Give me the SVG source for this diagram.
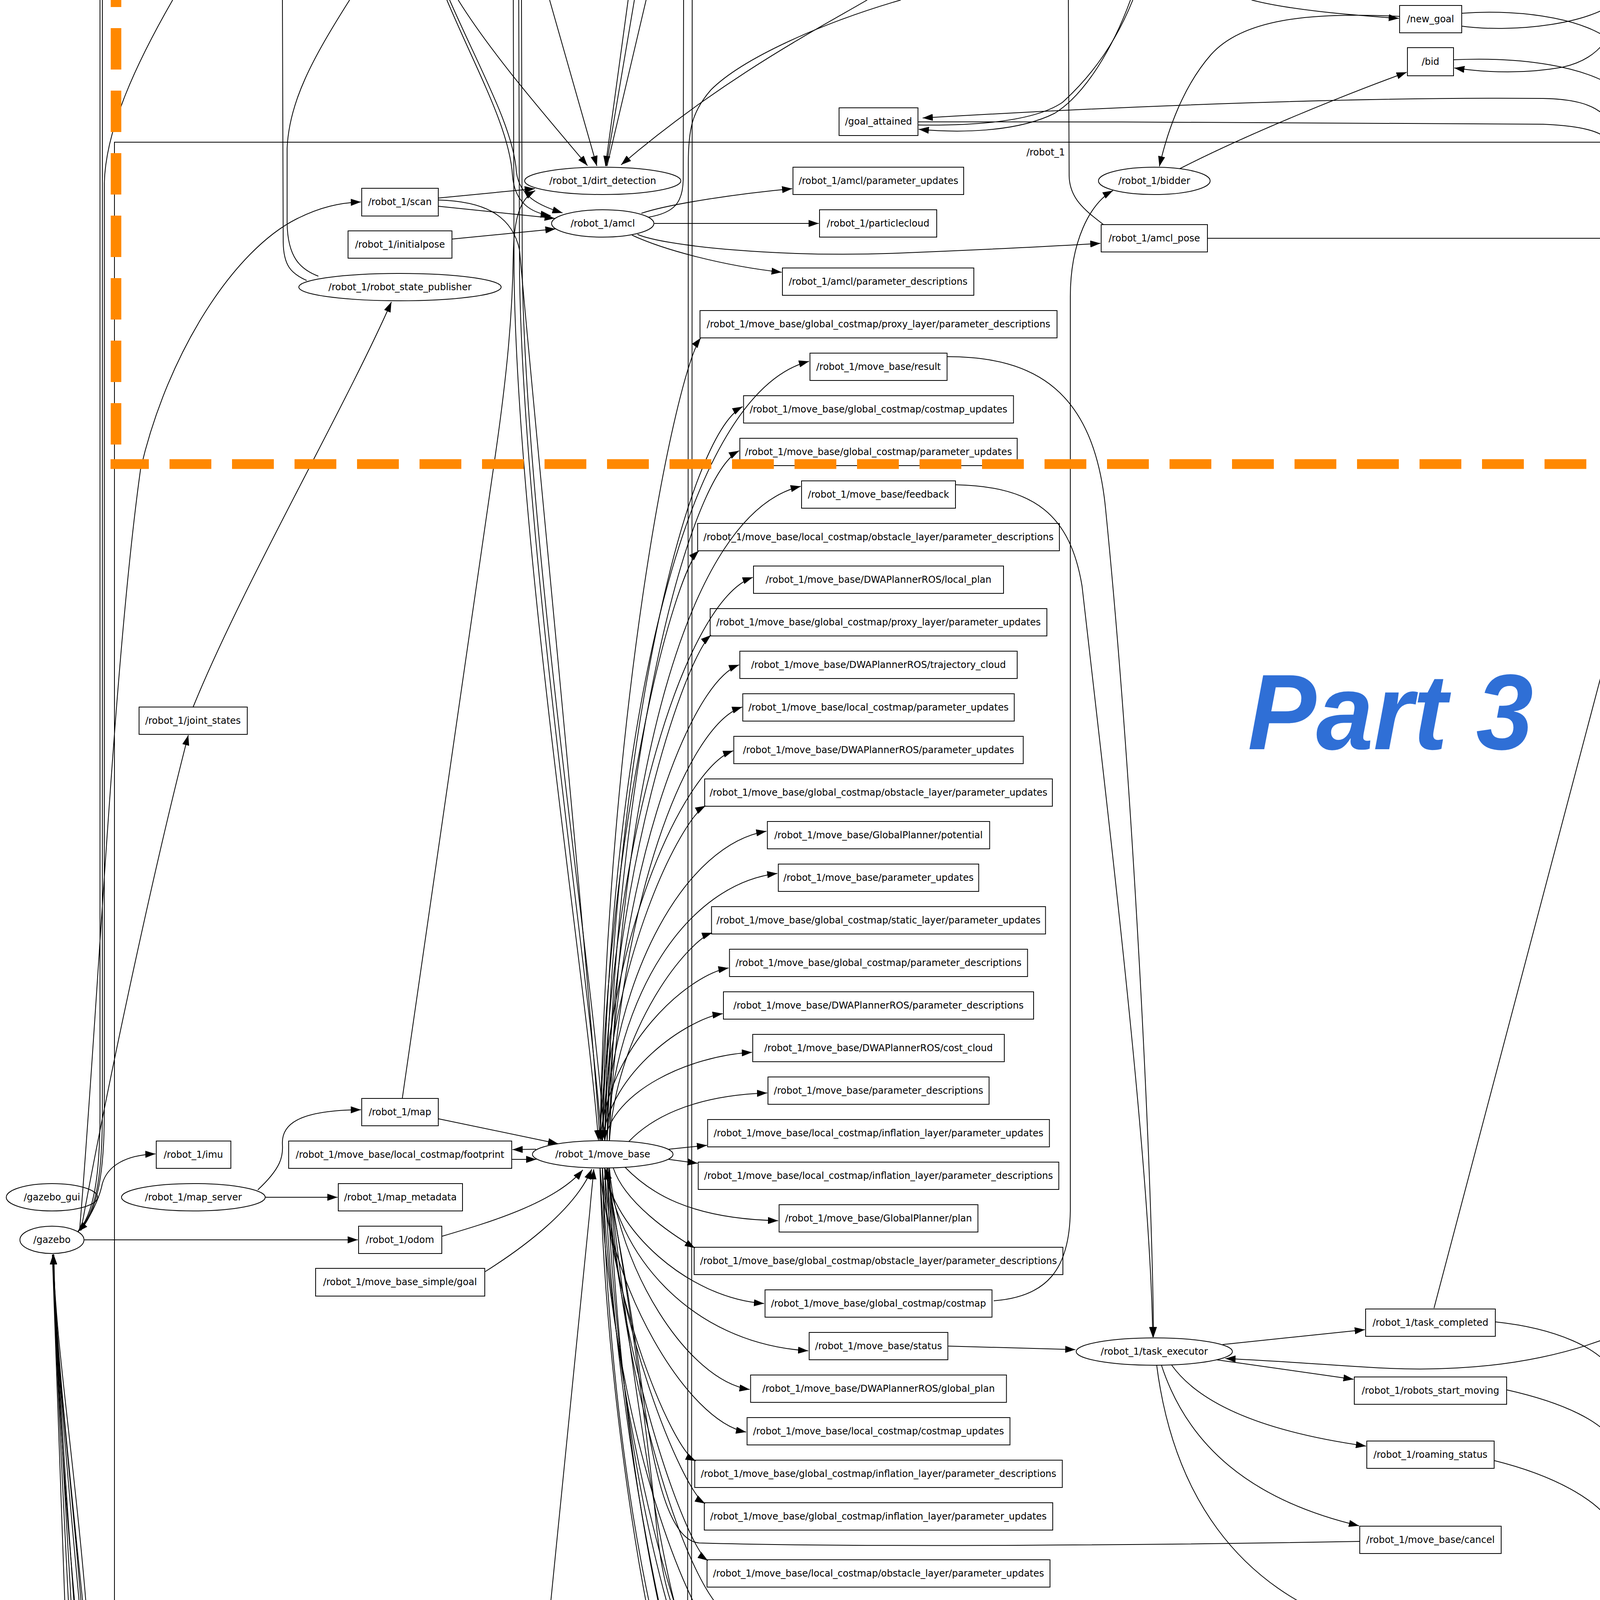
<svg xmlns="http://www.w3.org/2000/svg" width="5106" height="5954" viewBox="0 0 5106 5954">
<style>
.node rect,.node ellipse{fill:none;stroke:#000;stroke-width:2}
.node text,.cl text{font-family:"DejaVu Sans","Liberation Sans",sans-serif;font-size:24px;text-anchor:middle;fill:#000}
.edges path{fill:none;stroke:#000;stroke-width:2}
.edges path.a{marker-end:url(#ah)}
.cl rect,.cl path{fill:none;stroke:#000;stroke-width:2}
.big{font-family:"Liberation Sans",Arial,sans-serif;font-weight:bold;font-style:italic}
</style>
<defs>
<marker id="ah" markerWidth="26" markerHeight="18" refX="26" refY="9" orient="auto" markerUnits="userSpaceOnUse"><path d="M0,0 L26,9 L0,18 z" fill="#000"/></marker>
</defs>
<rect x="0" y="0" width="5106" height="5954" fill="#fff"/>
<g id="clusters" class="cl">
<rect x="293" y="364" width="4770" height="4632"/>
<text x="2677" y="398">/robot_1</text>
<rect x="269" y="5145" width="451" height="696"/>
<text x="495" y="5180">/gazebo</text>
<rect x="834" y="5068" width="380" height="152"/>
<text x="1024" y="5104">/custom_layers</text>
<path d="M246,5841 V5952 H655 V5841"/>
</g>
<g id="edges" class="edges">
<path class="a" d="M256,0 L256,2850 C256,3010 240,3110 199,3153"/>
<path d="M200,3153 C246,3105 262,3010 262,2850 L262,0"/>
<path d="M205,3150 C250,3100 267,3000 267,2850 L267,470 C270,330 350,160 442,0"/>
<path class="a" d="M207,3150 C240,3100 256,3060 262,3030 C275,2985 320,2957 398,2954"/>
<path class="a" d="M208,3146 C280,2750 400,2200 482,1882"/>
<path class="a" d="M204,3146 C250,2600 290,1700 360,1200 C430,900 600,640 760,560 C820,530 870,519 924,517"/>
<path class="a" d="M215,3174 L916,3174"/>
<path class="a" d="M494,1811 C620,1500 880,1050 1002,773"/>
<path d="M785,718 C745,700 726,680 725,620 L723,0"/>
<path d="M815,707 C770,690 736,660 735,570 L735,380 C740,260 800,150 895,0"/>
<path class="a" d="M1144,0 C1220,180 1305,330 1312,450 C1318,520 1360,545 1410,552"/>
<path class="a" d="M1151,0 C1230,180 1315,330 1322,440 C1330,505 1385,528 1440,545"/>
<path class="a" d="M1314,0 L1316,700 C1325,1400 1500,2500 1532,2919"/>
<path class="a" d="M1328,0 L1330,700 C1340,1400 1510,2500 1540,2919"/>
<path class="a" d="M1335,0 L1337,700 C1350,1400 1520,2500 1548,2919"/>
<path class="a" d="M1173,0 C1260,140 1400,300 1504,424"/>
<path class="a" d="M1407,0 L1528,425"/>
<path class="a" d="M1608,0 L1550,425"/>
<path d="M1624,0 L1552,425"/>
<path d="M1654,0 L1554,425"/>
<path class="a" d="M2220,0 C2100,70 1850,200 1590,422"/>
<path class="a" d="M2306,0 C2100,60 1900,150 1820,230 C1772,285 1762,330 1762,420 L1760,4960 C1756,5010 1700,5030 1300,5040 C800,5046 320,5040 285,5010 C262,4980 252,4700 242,4400 C205,3800 145,3500 136,3211"/>
<path d="M1772,0 L1770,4990 C1768,5070 1700,5120 1300,5190 C1250,5196 1222,5194 1197,5193"/>
<path d="M1660,556 C1725,545 1748,520 1749,460 L1750,0"/>
<path class="a" d="M1122,507 L1369,483"/>
<path class="a" d="M1122,528 L1420,559"/>
<path class="a" d="M1122,512 C1230,515 1310,545 1330,640 C1380,1200 1500,2400 1536,2919"/>
<path class="a" d="M1157,612 L1422,586"/>
<path class="a" d="M1030,2811 L1263,1200 C1300,950 1312,800 1314,650 C1316,560 1330,510 1370,488"/>
<path class="a" d="M1642,546 C1720,520 1900,495 2028,483"/>
<path class="a" d="M1675,572 L2096,572"/>
<path class="a" d="M1618,602 C1700,640 1850,680 2001,697"/>
<path class="a" d="M1632,600 C1700,630 2000,660 2300,648 C2500,640 2700,630 2817,623"/>
<path d="M2825,575 C2780,540 2738,510 2737,450 L2735,0"/>
<path class="a" d="M3091,610 L4193,610"/>
<path class="a" d="M2544,3330 C2680,3320 2738,3250 2740,3100 L2740,760 C2740,620 2790,520 2849,488"/>
<path class="a" d="M3020,432 C3200,340 3450,240 3601,185"/>
<path class="a" d="M3583,42 C3350,30 3180,50 3100,140 C3030,220 2990,330 2968,426"/>
<path class="a" d="M3204,0 C3300,25 3450,38 3581,47"/>
<path class="a" d="M2894,0 C2850,120 2780,240 2700,290 C2600,340 2450,340 2352,331"/>
<path d="M2350,320 C2500,322 2650,310 2720,262 C2800,190 2860,100 2900,0"/>
<path d="M3742,67 C3880,85 4080,60 4140,0"/>
<path d="M3742,34 C3900,22 4080,50 4140,120 C4160,150 4170,190 4200,205 C4300,230 4500,225 4700,210 C4900,190 5000,172 5106,170"/>
<path d="M4146,0 L4148,60 C4152,110 4250,135 4500,150 C4800,160 5000,164 5106,165"/>
<path class="a" d="M4143,0 C4140,80 4100,150 4000,172 C3900,190 3800,185 3723,174"/>
<path class="a" d="M3721,153 C3900,145 4060,170 4143,230 C4180,260 4220,280 4268,292"/>
<path class="a" d="M4532,311 L4765,311"/>
<path class="a" d="M4767,321 C4680,340 4600,380 4530,440 C4490,480 4450,530 4426,573"/>
<path d="M4793,275 L4379,0"/>
<path d="M4586,0 C4750,50 4950,100 5106,122"/>
<path d="M4347,575 C4250,470 4170,400 4151,300 L4150,0"/>
<path class="a" d="M4406,647 L4845,2023"/>
<path class="a" d="M3671,3349 L4385,647"/>
<path class="a" d="M4860,2096 C4830,2500 4600,3150 4350,3300 C4100,3480 3800,3520 3500,3500 C3350,3490 3200,3480 3137,3478"/>
<path class="a" d="M2424,913 C2650,913 2800,1000 2830,1300 C2900,2000 2950,3000 2953,3423"/>
<path class="a" d="M2446,1241 C2650,1245 2740,1320 2770,1500 C2850,2200 2945,3000 2951,3423"/>
<path class="a" d="M2427,3446 L2753,3455"/>
<path class="a" d="M3130,3442 L3494,3404"/>
<path class="a" d="M3114,3481 L3465,3531"/>
<path class="a" d="M2999,3494 C3060,3580 3200,3660 3497,3702"/>
<path class="a" d="M2973,3494 C3040,3700 3200,3840 3479,3906"/>
<path class="a" d="M2961,3494 C3000,3800 3150,4080 3520,4178"/>
<path class="a" d="M5106,4940 C5095,4975 5085,5000 5077,5006 C4900,5067 4400,5067 4170,5010 C4150,5000 4146,4950 4146,4800 L4146,420 C4144,300 4100,255 3950,252 C3500,248 2900,270 2362,302"/>
<path d="M2350,312 C2900,312 3600,312 3950,318 C4100,325 4138,350 4140,420 L4140,4800 C4141,5030 4150,5050 4170,5060 C4400,5127 4900,5127 5077,5061 C5090,5050 5100,5030 5106,4995"/>
<path d="M3828,3384 C3980,3400 4100,3450 4135,3520 C4143,3550 4143,3600 4143,3700 L4143,5100 C4145,5125 4150,5132 4170,5140 C4400,5201 4900,5201 5077,5140 C5095,5125 5100,5110 5106,5091"/>
<path d="M3857,3558 C4000,3590 4110,3640 4135,3700 C4142,3730 4142,3780 4142,3850 L4142,5150 C4143,5180 4148,5190 4170,5196 C4400,5328 4900,5328 5084,5194 C5095,5180 5100,5165 5106,5146"/>
<path d="M3825,3739 C3990,3780 4110,3850 4135,3920 C4141,3950 4141,4000 4141,4100 L4141,5250 C4142,5290 4148,5300 4160,5306 C4400,5566 4900,5566 5084,5302 C5095,5285 5100,5270 5106,5256"/>
<path class="a" d="M679,3065 L864,3065"/>
<path class="a" d="M660,3046 C720,2990 725,2960 723,2930 C720,2880 760,2842 924,2841"/>
<path class="a" d="M1122,2864 L1429,2928"/>
<path class="a" d="M1372,2942 L1312,2943"/>
<path class="a" d="M1310,2968 L1373,2968"/>
<path class="a" d="M1131,3165 C1250,3130 1420,3080 1492,2995"/>
<path class="a" d="M1241,3256 C1330,3200 1470,3100 1515,2993"/>
<path class="a" d="M1132,5132 C1250,5060 1320,4950 1340,4800 L1510,3100 C1514,3050 1518,3020 1520,2993"/>
<path class="a" d="M3481,3946 C3000,3955 2200,3962 1790,3950 C1720,3945 1680,3800 1650,3600 C1610,3300 1570,3100 1550,2993"/>
<path class="a" d="M3492,4212 C3000,4208 2100,4205 1800,4195 C1740,4190 1700,4100 1680,3900 C1640,3500 1580,3150 1553,2993"/>
<path class="a" d="M1557,2991 C1600,3400 1700,4100 1760,4200 C1790,4240 1900,4245 2200,4242 C2700,4238 3200,4232 3490,4227"/>
<path class="a" d="M2195,4979 C2050,5150 1800,5280 1500,5320 C1350,5340 1200,5375 1050,5360 C900,5340 760,5260 730,5220 C715,5190 730,5150 690,5115 C620,5060 500,5100 400,5110 C330,5115 280,5090 265,5059 C250,5000 240,4700 230,4400 C190,3800 140,3500 136,3211"/>
<path class="a" d="M138,3212 C150,3900 245,4500 250,4900 C255,5100 300,5170 352,5206"/>
<path class="a" d="M346,5341 C300,5320 272,5290 268,5200 C260,5000 240,4500 222,4200 C170,3700 140,3400 137,3211"/>
<path class="a" d="M331,5446 C290,5420 265,5380 262,5300 C255,5000 232,4500 212,4200 C165,3700 140,3400 137,3211"/>
<path class="a" d="M136,3212 C160,3800 230,4600 250,5000 C258,5300 262,5470 313,5543"/>
<path class="a" d="M135,3212 C160,3800 220,4700 240,5100 C250,5400 255,5580 286,5642"/>
<path class="a" d="M135,3212 C155,3800 210,4700 228,5200 C236,5500 240,5700 280,5750 C310,5775 340,5782 363,5785"/>
<path class="a" d="M134,3212 C150,3800 195,4800 215,5400 C225,5700 232,5820 243,5841 C260,5870 290,5888 330,5896"/>
<path class="a" d="M1536,2921 C1556,1790 1732,947 1794,865"/>
<path class="a" d="M1542,2921 C1562,1823 1760,1005 2071,925"/>
<path class="a" d="M1548,2921 C1568,1887 1760,1116 1901,1041"/>
<path class="a" d="M1554,2921 C1574,1949 1760,1225 1892,1154"/>
<path class="a" d="M1560,2921 C1580,1999 1760,1312 2050,1245"/>
<path class="a" d="M1536,2921 C1556,2090 1726,1470 1789,1410"/>
<path class="a" d="M1542,2921 C1562,2127 1760,1536 1927,1478"/>
<path class="a" d="M1548,2921 C1568,2209 1758,1678 1820,1626"/>
<path class="a" d="M1554,2921 C1574,2251 1760,1751 1892,1702"/>
<path class="a" d="M1560,2921 C1580,2310 1760,1854 1900,1810"/>
<path class="a" d="M1536,2921 C1556,2372 1760,1962 1877,1922"/>
<path class="a" d="M1542,2921 C1562,2449 1744,2097 1806,2063"/>
<path class="a" d="M1548,2921 C1568,2485 1760,2160 1962,2128"/>
<path class="a" d="M1554,2921 C1574,2544 1760,2263 1990,2236"/>
<path class="a" d="M1560,2921 C1580,2628 1761,2409 1823,2388"/>
<path class="a" d="M1536,2921 C1556,2677 1760,2496 1865,2478"/>
<path class="a" d="M1542,2921 C1562,2742 1760,2608 1850,2595"/>
<path class="a" d="M1548,2921 C1568,2796 1760,2703 1925,2694"/>
<path class="a" d="M1610,2922 C1660,2870 1760,2805 1964,2798"/>
<path class="a" d="M1712,2942 L1810,2932"/>
<path class="a" d="M1712,2968 L1786,2978"/>
<path class="a" d="M1600,2988 C1660,3050 1760,3120 1992,3125"/>
<path class="a" d="M1570,2990 C1600,3080 1720,3160 1779,3195"/>
<path class="a" d="M1548,2989 C1568,3146 1760,3323 1956,3337"/>
<path class="a" d="M1554,2989 C1574,3200 1760,3439 2069,3458"/>
<path class="a" d="M1560,2989 C1580,3245 1760,3534 1919,3557"/>
<path class="a" d="M1536,2989 C1556,3294 1760,3639 1910,3666"/>
<path class="a" d="M1542,2989 C1562,3327 1720,3710 1781,3740"/>
<path class="a" d="M1548,2989 C1568,3376 1745,3815 1805,3849"/>
<path class="a" d="M1554,2989 C1574,3442 1752,3955 1812,3995"/>
<path class="a" d="M1560,2989 C1580,3507 1760,4094 1874,4140"/>
<path class="a" d="M1536,2989 C1556,3583 1760,4257 1953,4310"/>
<path class="a" d="M1542,2989 C1562,3624 1760,4344 1875,4400"/>
<path class="a" d="M1548,2989 C1568,3657 1740,4415 1797,4474"/>
<path class="a" d="M1554,2989 C1574,3732 1760,4574 2028,4640"/>
<path class="a" d="M1560,2989 C1580,3779 1760,4675 1962,4745"/>
<path class="a" d="M1536,2989 C1556,3823 1760,4768 1901,4842"/>
<path class="a" d="M1542,2989 C1562,3879 1760,4888 2125,4967"/>
</g>
<g id="nodes">
<g id="n_dirt_detection" class="node"><ellipse cx="1543" cy="463" rx="200" ry="35"/><text x="1543" y="471">/robot_1/dirt_detection</text></g>
<g id="n_amcl" class="node"><ellipse cx="1543" cy="572" rx="131" ry="35"/><text x="1543" y="580">/robot_1/amcl</text></g>
<g id="n_rsp" class="node"><ellipse cx="1024" cy="735" rx="259" ry="35"/><text x="1024" y="743">/robot_1/robot_state_publisher</text></g>
<g id="n_bidder" class="node"><ellipse cx="2955" cy="463" rx="143" ry="35"/><text x="2955" y="471">/robot_1/bidder</text></g>
<g id="n_task_allocator" class="node"><ellipse cx="4396" cy="311" rx="136" ry="35"/><text x="4396" y="319">/task_allocator</text></g>
<g id="n_task_manager" class="node"><ellipse cx="4396" cy="610" rx="201" ry="35"/><text x="4396" y="618">/robot_1/task_manager</text></g>
<g id="n_move_base" class="node"><ellipse cx="1543" cy="2955" rx="180" ry="35"/><text x="1543" y="2963">/robot_1/move_base</text></g>
<g id="n_task_executor" class="node"><ellipse cx="2955" cy="3460" rx="200" ry="35"/><text x="2955" y="3468">/robot_1/task_executor</text></g>
<g id="n_gazebo_gui" class="node"><ellipse cx="133" cy="3065" rx="117" ry="35"/><text x="133" y="3073">/gazebo_gui</text></g>
<g id="n_map_server" class="node"><ellipse cx="495" cy="3065" rx="184" ry="35"/><text x="495" y="3073">/robot_1/map_server</text></g>
<g id="n_gazebo" class="node"><ellipse cx="133" cy="3174" rx="82" ry="35"/><text x="133" y="3182">/gazebo</text></g>
<g id="n_scan" class="node"><rect x="926" y="482" width="196" height="71"/><text x="1024" y="525">/robot_1/scan</text></g>
<g id="n_initialpose" class="node"><rect x="891" y="591" width="266" height="70"/><text x="1024" y="634">/robot_1/initialpose</text></g>
<g id="n_amcl_pu" class="node"><rect x="2030" y="428" width="437" height="70"/><text x="2249" y="471">/robot_1/amcl/parameter_updates</text></g>
<g id="n_particlecloud" class="node"><rect x="2098" y="537" width="300" height="70"/><text x="2248" y="580">/robot_1/particlecloud</text></g>
<g id="n_amcl_pose" class="node"><rect x="2819" y="575" width="272" height="70"/><text x="2955" y="618">/robot_1/amcl_pose</text></g>
<g id="n_amcl_pd" class="node"><rect x="2003" y="686" width="490" height="70"/><text x="2248" y="729">/robot_1/amcl/parameter_descriptions</text></g>
<g id="n_goal_attained" class="node"><rect x="2148" y="276" width="202" height="71"/><text x="2249" y="319">/goal_attained</text></g>
<g id="n_new_goal" class="node"><rect x="3583" y="14" width="159" height="70"/><text x="3662" y="57">/new_goal</text></g>
<g id="n_bid" class="node"><rect x="3603" y="122" width="118" height="72"/><text x="3662" y="166">/bid</text></g>
<g id="n_confirmation" class="node"><rect x="4767" y="276" width="198" height="71"/><text x="4866" y="319">/confirmation</text></g>
<g id="n_schedule_updated" class="node"><rect x="4687" y="2025" width="359" height="70"/><text x="4866" y="2068">/robot_1/schedule_updated</text></g>
<g id="n_joint_states" class="node"><rect x="356" y="1810" width="277" height="70"/><text x="494" y="1853">/robot_1/joint_states</text></g>
<g id="n_map" class="node"><rect x="926" y="2812" width="196" height="70"/><text x="1024" y="2855">/robot_1/map</text></g>
<g id="n_lc_footprint" class="node"><rect x="739" y="2921" width="571" height="70"/><text x="1024" y="2964">/robot_1/move_base/local_costmap/footprint</text></g>
<g id="n_imu" class="node"><rect x="400" y="2921" width="191" height="70"/><text x="495" y="2964">/robot_1/imu</text></g>
<g id="n_map_metadata" class="node"><rect x="866" y="3030" width="318" height="70"/><text x="1025" y="3073">/robot_1/map_metadata</text></g>
<g id="n_odom" class="node"><rect x="918" y="3139" width="213" height="70"/><text x="1024" y="3182">/robot_1/odom</text></g>
<g id="n_simple_goal" class="node"><rect x="808" y="3247" width="433" height="71"/><text x="1024" y="3290">/robot_1/move_base_simple/goal</text></g>
<g id="n_task_completed" class="node"><rect x="3496" y="3351" width="332" height="70"/><text x="3662" y="3394">/robot_1/task_completed</text></g>
<g id="n_robots_start_moving" class="node"><rect x="3467" y="3525" width="390" height="70"/><text x="3662" y="3568">/robot_1/robots_start_moving</text></g>
<g id="n_roaming_status" class="node"><rect x="3499" y="3689" width="326" height="70"/><text x="3662" y="3732">/robot_1/roaming_status</text></g>
<g id="n_mb_cancel" class="node"><rect x="3481" y="3907" width="362" height="70"/><text x="3662" y="3950">/robot_1/move_base/cancel</text></g>
<g id="n_mb_goal" class="node"><rect x="3493" y="4180" width="338" height="70"/><text x="3662" y="4223">/robot_1/move_base/goal</text></g>
<g id="n_gz_model_states" class="node"><rect x="349" y="5208" width="293" height="72"/><text x="495" y="5252">/gazebo/model_states</text></g>
<g id="n_gz_set_link_state" class="node"><rect x="346" y="5318" width="299" height="71"/><text x="495" y="5361">/gazebo/set_link_state</text></g>
<g id="n_gz_set_model_state" class="node"><rect x="331" y="5427" width="328" height="70"/><text x="495" y="5470">/gazebo/set_model_state</text></g>
<g id="n_gz_pu" class="node"><rect x="315" y="5536" width="361" height="70"/><text x="495" y="5579">/gazebo/parameter_updates</text></g>
<g id="n_gz_pd" class="node"><rect x="288" y="5645" width="414" height="70"/><text x="495" y="5688">/gazebo/parameter_descriptions</text></g>
<g id="n_gz_link_states" class="node"><rect x="365" y="5754" width="261" height="70"/><text x="495" y="5797">/gazebo/link_states</text></g>
<g id="n_gz_link_states2" class="node"><rect x="332" y="5865" width="238" height="70"/><text x="451" y="5908">/gazebo/link_states</text></g>
<g id="n_cl_combined" class="node"><rect x="853" y="5133" width="343" height="70"/><text x="1024" y="5176">/custom_layers/combined</text></g>
<g id="n_k0" class="node"><rect x="1792" y="795" width="914" height="70"/><text x="2249" y="838">/robot_1/move_base/global_costmap/proxy_layer/parameter_descriptions</text></g>
<g id="n_k1" class="node"><rect x="2073.5" y="904" width="351" height="70"/><text x="2249" y="947">/robot_1/move_base/result</text></g>
<g id="n_k2" class="node"><rect x="1903.5" y="1013" width="691" height="70"/><text x="2249" y="1056">/robot_1/move_base/global_costmap/costmap_updates</text></g>
<g id="n_k3" class="node"><rect x="1894" y="1122" width="710" height="70"/><text x="2249" y="1165">/robot_1/move_base/global_costmap/parameter_updates</text></g>
<g id="n_k4" class="node"><rect x="2052" y="1231" width="394" height="70"/><text x="2249" y="1274">/robot_1/move_base/feedback</text></g>
<g id="n_k5" class="node"><rect x="1786" y="1340" width="926" height="70"/><text x="2249" y="1383">/robot_1/move_base/local_costmap/obstacle_layer/parameter_descriptions</text></g>
<g id="n_k6" class="node"><rect x="1929" y="1449" width="640" height="70"/><text x="2249" y="1492">/robot_1/move_base/DWAPlannerROS/local_plan</text></g>
<g id="n_k7" class="node"><rect x="1818" y="1558" width="862" height="70"/><text x="2249" y="1601">/robot_1/move_base/global_costmap/proxy_layer/parameter_updates</text></g>
<g id="n_k8" class="node"><rect x="1894" y="1667" width="710" height="70"/><text x="2249" y="1710">/robot_1/move_base/DWAPlannerROS/trajectory_cloud</text></g>
<g id="n_k9" class="node"><rect x="1901.5" y="1776" width="695" height="70"/><text x="2249" y="1819">/robot_1/move_base/local_costmap/parameter_updates</text></g>
<g id="n_k10" class="node"><rect x="1878.5" y="1885" width="741" height="70"/><text x="2249" y="1928">/robot_1/move_base/DWAPlannerROS/parameter_updates</text></g>
<g id="n_k11" class="node"><rect x="1804" y="1994" width="890" height="70"/><text x="2249" y="2037">/robot_1/move_base/global_costmap/obstacle_layer/parameter_updates</text></g>
<g id="n_k12" class="node"><rect x="1964.5" y="2103" width="569" height="70"/><text x="2249" y="2146">/robot_1/move_base/GlobalPlanner/potential</text></g>
<g id="n_k13" class="node"><rect x="1992.5" y="2212" width="513" height="70"/><text x="2249" y="2255">/robot_1/move_base/parameter_updates</text></g>
<g id="n_k14" class="node"><rect x="1821.5" y="2321" width="855" height="70"/><text x="2249" y="2364">/robot_1/move_base/global_costmap/static_layer/parameter_updates</text></g>
<g id="n_k15" class="node"><rect x="1867.5" y="2430" width="763" height="70"/><text x="2249" y="2473">/robot_1/move_base/global_costmap/parameter_descriptions</text></g>
<g id="n_k16" class="node"><rect x="1852" y="2539" width="794" height="70"/><text x="2249" y="2582">/robot_1/move_base/DWAPlannerROS/parameter_descriptions</text></g>
<g id="n_k17" class="node"><rect x="1927" y="2648" width="644" height="70"/><text x="2249" y="2691">/robot_1/move_base/DWAPlannerROS/cost_cloud</text></g>
<g id="n_k18" class="node"><rect x="1966" y="2757" width="566" height="70"/><text x="2249" y="2800">/robot_1/move_base/parameter_descriptions</text></g>
<g id="n_k19" class="node"><rect x="1811.5" y="2866" width="875" height="70"/><text x="2249" y="2909">/robot_1/move_base/local_costmap/inflation_layer/parameter_updates</text></g>
<g id="n_k20" class="node"><rect x="1787.5" y="2975" width="923" height="70"/><text x="2249" y="3018">/robot_1/move_base/local_costmap/inflation_layer/parameter_descriptions</text></g>
<g id="n_k21" class="node"><rect x="1994.5" y="3084" width="509" height="70"/><text x="2249" y="3127">/robot_1/move_base/GlobalPlanner/plan</text></g>
<g id="n_k22" class="node"><rect x="1777" y="3193" width="944" height="70"/><text x="2249" y="3236">/robot_1/move_base/global_costmap/obstacle_layer/parameter_descriptions</text></g>
<g id="n_k23" class="node"><rect x="1958.5" y="3302" width="581" height="70"/><text x="2249" y="3345">/robot_1/move_base/global_costmap/costmap</text></g>
<g id="n_k24" class="node"><rect x="2071.5" y="3411" width="355" height="70"/><text x="2249" y="3454">/robot_1/move_base/status</text></g>
<g id="n_k25" class="node"><rect x="1921.5" y="3520" width="655" height="70"/><text x="2249" y="3563">/robot_1/move_base/DWAPlannerROS/global_plan</text></g>
<g id="n_k26" class="node"><rect x="1912.5" y="3629" width="673" height="70"/><text x="2249" y="3672">/robot_1/move_base/local_costmap/costmap_updates</text></g>
<g id="n_k27" class="node"><rect x="1778.5" y="3738" width="941" height="70"/><text x="2249" y="3781">/robot_1/move_base/global_costmap/inflation_layer/parameter_descriptions</text></g>
<g id="n_k28" class="node"><rect x="1803" y="3847" width="892" height="70"/><text x="2249" y="3890">/robot_1/move_base/global_costmap/inflation_layer/parameter_updates</text></g>
<g id="n_k29" class="node"><rect x="1810" y="3993" width="878" height="70"/><text x="2249" y="4036">/robot_1/move_base/local_costmap/obstacle_layer/parameter_updates</text></g>
<g id="n_k30" class="node"><rect x="1876.5" y="4103" width="745" height="70"/><text x="2249" y="4146">/robot_1/move_base/local_costmap/parameter_descriptions</text></g>
<g id="n_k31" class="node"><rect x="1955" y="4254" width="588" height="70"/><text x="2249" y="4297">/robot_1/move_base/global_costmap/footprint</text></g>
<g id="n_k32" class="node"><rect x="1877" y="4363" width="744" height="70"/><text x="2249" y="4406">/robot_1/move_base/GlobalPlanner/parameter_descriptions</text></g>
<g id="n_k33" class="node"><rect x="1795" y="4472" width="908" height="70"/><text x="2249" y="4515">/robot_1/move_base/global_costmap/static_layer/parameter_descriptions</text></g>
<g id="n_k34" class="node"><rect x="2030" y="4581" width="438" height="70"/><text x="2249" y="4624">/robot_1/move_base/current_goal</text></g>
<g id="n_k35" class="node"><rect x="1964" y="4690" width="570" height="70"/><text x="2249" y="4733">/robot_1/move_base/local_costmap/costmap</text></g>
<g id="n_k36" class="node"><rect x="1903" y="4799" width="692" height="70"/><text x="2249" y="4842">/robot_1/move_base/GlobalPlanner/parameter_updates</text></g>
<g id="n_cmd_vel" class="node"><rect x="2127" y="4908" width="244" height="70"/><text x="2249" y="4951">/robot_1/cmd_vel</text></g>
</g>
<g id="annotations">
<path d="M297,-88 V1175" stroke="#ff8800" stroke-width="27" stroke-dasharray="106 54" fill="none"/>
<path d="M283,1188 H5106" stroke="#ff8800" stroke-width="25" stroke-dasharray="107 53" stroke-dashoffset="9" fill="none"/>
<text class="big" x="4562" y="565" font-size="190" fill="#ff8800" textLength="524" lengthAdjust="spacingAndGlyphs">Part 2</text>
<text class="big" x="3194" y="1918" font-size="275" fill="#2f6fd6" textLength="731" lengthAdjust="spacingAndGlyphs">Part 3</text>
</g>
</svg>
